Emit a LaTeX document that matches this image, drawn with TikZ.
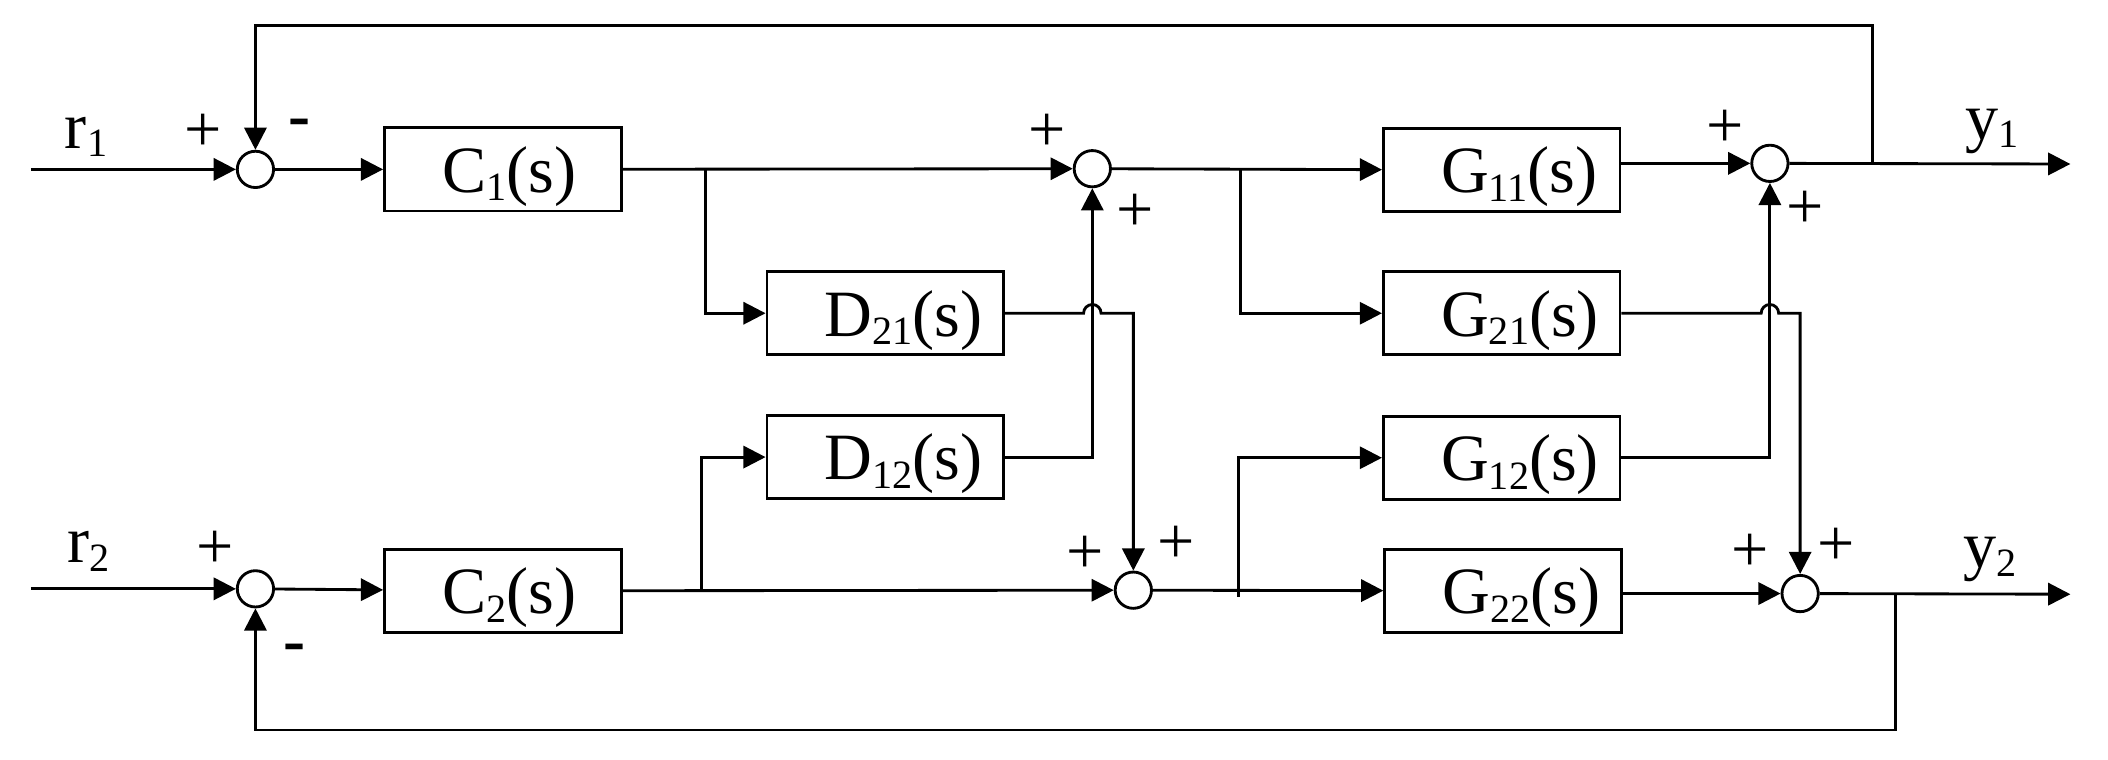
\documentclass[tikz,border=0pt]{standalone}
\usepackage{fontspec}
\setmainfont{Liberation Serif}
\usetikzlibrary{arrows.meta,calc}
\newcommand{\lsub}[1]{\raisebox{-1.8pt}{\fontsize{8.5}{10}\selectfont #1}}

\begin{document}
\begin{tikzpicture}[line width=0.6pt, >={Triangle[length=1.65mm,width=1.65mm]}]
        \tikzstyle{every node}=[font=\fontsize{14}{16}\selectfont]
        \tikzstyle{blk}=[draw, minimum height=6.2mm, text width=17.6mm, inner xsep=0pt, inner ysep=0pt, text height=4.5mm, text depth=1.1mm, align=left, execute at begin node={\hspace*{4.3mm}}]
        \tikzstyle{sum}=[draw, circle, minimum size=2.7mm, inner sep=0pt]
        \tikzstyle{sgn}=[inner sep=0pt]

        \useasboundingbox (0,0) rectangle (15.68,-5.653);

% two loops with decouplers D12, D21 and the 2x2 plant G

        \node[sum] (s1) at (1.90,-1.26) {};
        \node[sum] (s2) at (1.90,-4.38) {};
        \node[blk] (c1) at (3.74,-1.26) {C\lsub{1}(s)};
        \node[blk] (c2) at (3.74,-4.395) {C\lsub{2}(s)};
        \node[blk] (d21) at (6.585,-2.33) {D\lsub{21}(s)};
        \node[blk] (d12) at (6.585,-3.40) {D\lsub{12}(s)};
        \node[sum] (s3) at (8.125,-1.255) {};
        \node[sum] (s4) at (8.43,-4.39) {};
        \node[blk] (g11) at (11.17,-1.265) {G\lsub{11}(s)};
        \node[blk] (g21) at (11.17,-2.33) {G\lsub{21}(s)};
        \node[blk] (g12) at (11.17,-3.405) {G\lsub{12}(s)};
        \node[blk] (g22) at (11.18,-4.395) {G\lsub{22}(s)};
        \node[sum] (s5) at (13.165,-1.215) {};
        \node[sum] (s6) at (13.39,-4.415) {};

        \coordinate (in1) at (0.23,-1.26);
        \coordinate (in2) at (0.23,-4.38);
        \coordinate (b1) at (5.245,-1.26);
        \coordinate (b2) at (5.22,-4.395);
        \coordinate (b3) at (9.23,-1.265);
        \coordinate (b4) at (9.21,-4.44);
        \coordinate (f1) at (13.93,-1.22);
        \coordinate (f2) at (14.10,-4.42);
        \coordinate (o1) at (15.40,-1.22);
        \coordinate (o2) at (15.40,-4.42);

        \node (lr1) at (0.64,-1.02) {r\lsub{1}};
        \node (lr2) at (0.66,-4.10) {r\lsub{2}};
        \node (ly1) at (14.82,-0.975) {y\lsub{1}};
        \node (ly2) at (14.80,-4.165) {y\lsub{2}};

        \node[sgn] (p1) at (1.51,-0.99) {+};
        \node[sgn] (m1) at (2.225,-0.955) {\textbf{-}};
        \node[sgn] (p2) at (1.60,-4.09) {+};
        \node[sgn] (m2) at (2.19,-4.86) {\textbf{-}};
        \node[sgn] (p3a) at (7.79,-0.99) {+};
        \node[sgn] (p3b) at (8.44,-1.58) {+};
        \node[sgn] (p4a) at (8.07,-4.13) {+};
        \node[sgn] (p4b) at (8.75,-4.05) {+};
        \node[sgn] (p5a) at (12.83,-0.96) {+};
        \node[sgn] (p5b) at (13.43,-1.56) {+};
        \node[sgn] (p6a) at (13.02,-4.115) {+};
        \node[sgn] (p6b) at (13.66,-4.07) {+};

        \draw[->] (in1) -- (s1);
        \draw[->] (s1) -- (c1);
        \draw[->] (c1) -- (s3);
        \draw[->] (b1) |- (d21);
        \draw[->] (in2) -- (s2);
        \draw[->] (s2) -- (c2);
        \draw[->] (c2) -- (s4);
        \draw[->] (b2) |- (d12);
        \draw[->] (d12) -| (s3);
        \draw[->] (d21) -- ($(d21.east -| s3)+(-0.065,0)$) arc[start angle=180, end angle=0, radius=0.065] -| (s4);
        \draw[->] (s3) -- (g11);
        \draw[->] (b3) |- (g21);
        \draw[->] (s4) -- (g22);
        \draw[->] (b4) |- (g12);
        \draw[->] (g11.east |- s5) -- (s5);
        \draw[->] (g12) -| (s5);
        \draw[->] (g21) -- ($(g21.east -| s5)+(-0.065,0)$) arc[start angle=180, end angle=0, radius=0.065] -| (s6);
        \draw[->] (g22.east |- s6) -- (s6);
        \draw[->] (s5) -- (o1);
        \draw[->] (s6) -- (o2);
        \draw[->] (f1) -- ++(0,1.03) -| (s1);
        \draw[->] (f2) -- ++(0,-1.01) -| (s2);

    \end{tikzpicture}
\end{document}
